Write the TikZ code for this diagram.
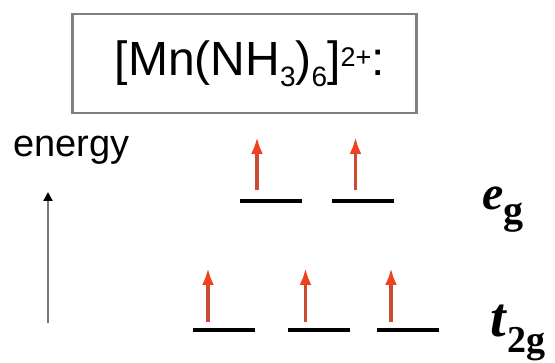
\documentclass[tikz,border=0pt]{standalone}
\usepackage{fontspec}
\setmainfont{Liberation Serif}
\newfontfamily\arialfont{Liberation Sans}
\usetikzlibrary{positioning,arrows.meta}
\definecolor{spinshaft}{RGB}{200,75,50}
\definecolor{spinhead}{RGB}{240,65,30}
\definecolor{boxgray}{RGB}{128,128,128}
\definecolor{axisgray}{RGB}{120,120,120}
\newcommand{\chemsub}[1]{\raisebox{-11pt}{\fontsize{28}{28}\selectfont #1}}
\newcommand{\chemsup}[1]{\raisebox{9pt}{\fontsize{27}{27}\selectfont #1}}

\begin{document}
\begin{tikzpicture}[
  x=1pt, y=1pt,
  titlebox/.style={draw=boxgray, line width=2.5pt, minimum width=344pt, minimum height=99pt, inner sep=0pt, font=\arialfont\fontsize{48}{48}\selectfont},
  level/.style={fill=black, minimum width=62pt, minimum height=4pt, inner sep=0pt, outer sep=0pt},
  orb/.style={inner sep=0pt, anchor=base west},
  spin/.style={draw=spinshaft, line width=3.8pt, -{Latex[length=17pt, width=12pt, color=spinhead]}},
  axis/.style={draw=axisgray, line width=2.5pt, -{Triangle[length=9pt, width=9pt, color=black]}}]

  \useasboundingbox (0,0) rectangle (555,362);

  \node[titlebox] (title) at (244.7,298.5) {\hspace*{10pt}[Mn(NH\chemsub{3})\chemsub{6}]\chemsup{2+}:};

  \node[orb, font=\arialfont\fontsize{38}{38}\selectfont] (energy) at (13,205) {energy};
  \coordinate (ebot) at (48,39);
  \coordinate (etop) at (48,170);
  \draw[axis] (ebot) -- (etop);

  % e_g set
  \node[level] (eg1) at (271,161) {};
  \node[level, right=30pt of eg1] (eg2) {};
  % t_2g set
  \node[level] (t1) at (224,32) {};
  \node[level, right=33pt of t1] (t2) {};
  \node[level, right=27pt of t2] (t3) {};

  \draw[spin] ([xshift=-14pt,yshift=9pt]eg1.north) -- ++(0,53);
  \draw[spin] ([xshift=-7.5pt,yshift=9pt]eg2.north) -- ++(0,53);
  \draw[spin] ([xshift=-16pt,yshift=6pt]t1.north) -- ++(0,54);
  \draw[spin] ([xshift=-13.5pt,yshift=6pt]t2.north) -- ++(0,54);
  \draw[spin] ([xshift=-17pt,yshift=6pt]t3.north) -- ++(0,54);

  \node[orb, font=\fontsize{48}{48}\selectfont] (eglab) at (482,152) {\textbf{\textit{e}}\raisebox{-14pt}{\fontsize{40}{40}\selectfont\bfseries g}};
  \node[orb, font=\fontsize{56}{56}\selectfont] (tlab) at (490,26) {\textbf{\textit{t}}\raisebox{-17pt}{\fontsize{38}{38}\selectfont\bfseries 2g}};
\end{tikzpicture}
\end{document}
